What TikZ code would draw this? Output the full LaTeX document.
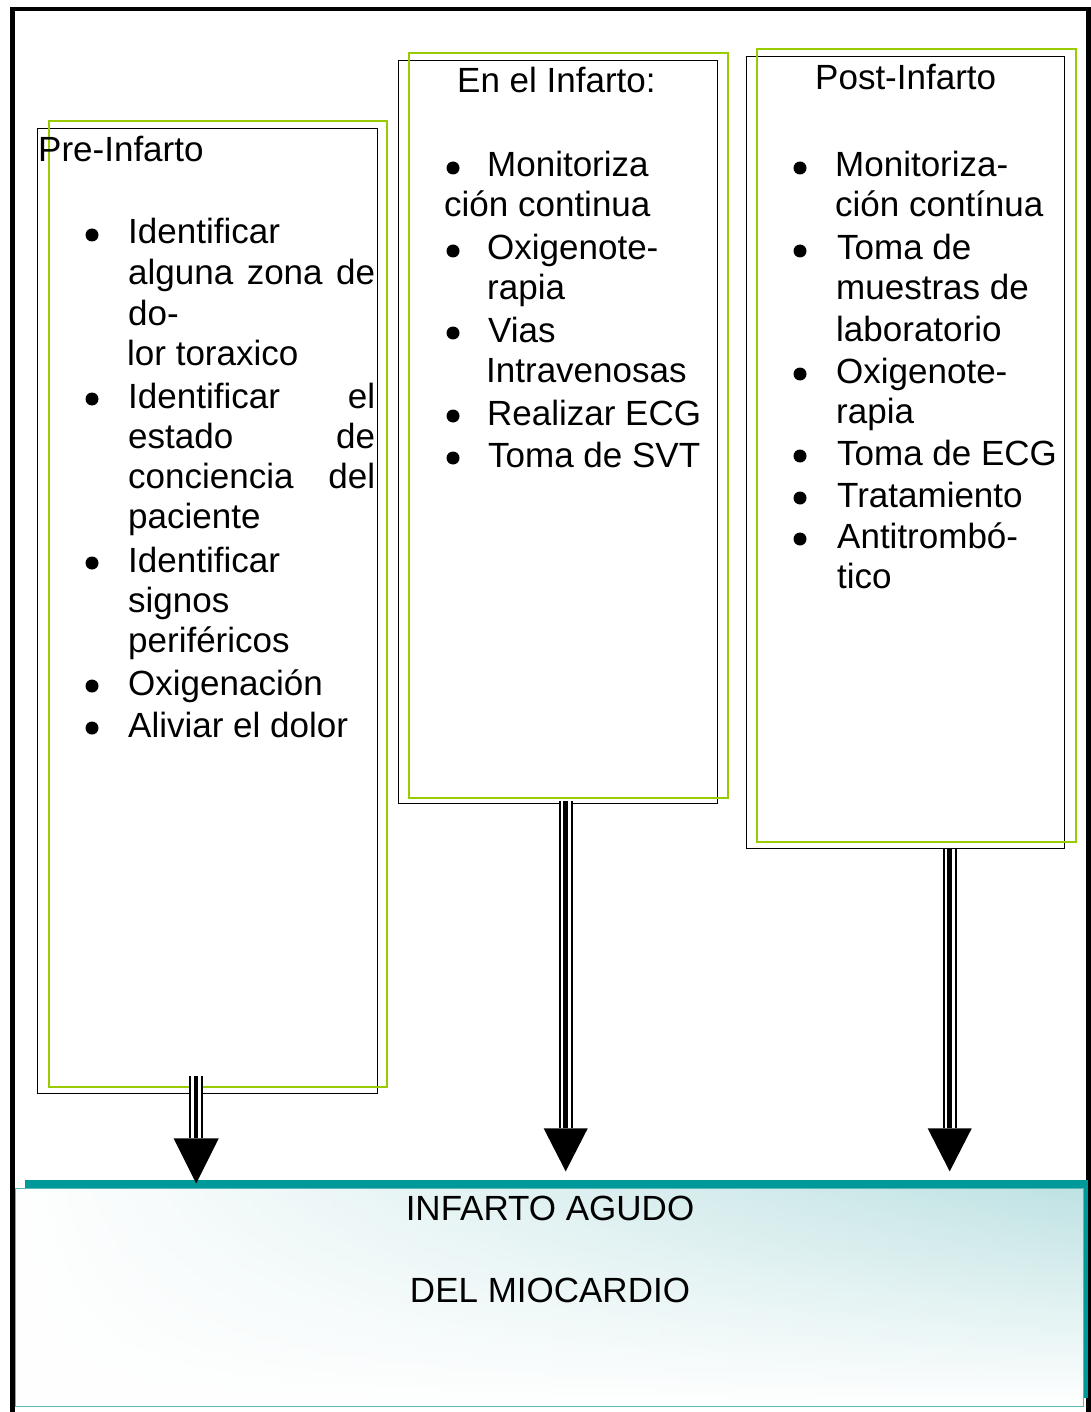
\documentclass[tikz,border=0pt]{standalone}
\usepackage{fontspec}
\setmainfont{Liberation Sans}
\usepackage{xcolor}
\usepackage{tikz}
\usetikzlibrary{fadings}
\definecolor{lime}{HTML}{99CC00}
\definecolor{iamteal}{HTML}{009999}
\definecolor{iamline}{HTML}{5CB8B8}
\definecolor{iamtop}{HTML}{BFE2E3}
\tikzset{
  stagebox/.style={draw=black, line width=1.4pt, inner sep=0pt, anchor=north west},
  stagegreen/.style={draw=lime, line width=1.8pt, inner sep=0pt, anchor=north west},
  txt/.style={anchor=base west, inner sep=0pt, font=\fontsize{35}{40.5}\selectfont},
  blt/.style={circle, fill=black, inner sep=0pt, minimum size=13pt},
  shaft/.style={line width=4.5pt, preaction={draw, line width=1.8pt, double distance=10.2pt}},
  head/.style={fill=black},
  iambox/.style={draw=iamline, line width=1.2pt, inner sep=0pt, anchor=north west,
    top color=iamtop, bottom color=white,
    path picture={\fill[white, path fading=east] (path picture bounding box.north west) rectangle (path picture bounding box.south east);}},
}

\begin{document}
\begin{tikzpicture}[x=1pt,y=-1pt]
  \useasboundingbox (0,0) rectangle (1091,1412);
  \clip (0,0) rectangle (1091,1412);

  % page frame
  \draw[line width=4.5pt] (12.5,1430) -- (12.5,9) -- (1088.5,9) -- (1088.5,1430);

  % the three stages
  \node[stagebox, minimum width=340pt, minimum height=965pt] (pre) at (37,128) {};
  \node[stagegreen, minimum width=338pt, minimum height=966pt] (pregreen) at (48,120) {};
  \node[stagebox, minimum width=319pt, minimum height=743pt] (during) at (398,60) {};
  \node[stagegreen, minimum width=319pt, minimum height=745pt] (duringgreen) at (408,52) {};
  \node[stagebox, minimum width=318pt, minimum height=792pt] (post) at (746,56) {};
  \node[stagegreen, minimum width=319pt, minimum height=793pt] (postgreen) at (756,48) {};

  % Pre-Infarto
  \foreach \x/\y/\t [count=\i] in {38/162/Pre-Infarto, 128/244/Identificar,
      128/285/{\makebox[247pt][s]{alguna zona de}}, 128/325/do-, 127/365/lor toraxico,
      128/408/{\makebox[247pt][s]{Identificar el}}, 128/448/{\makebox[247pt][s]{estado de}},
      128/488/{\makebox[247pt][s]{conciencia del}}, 128/528/paciente,
      128/572/Identificar, 128/612/signos, 128/652/periféricos,
      128/695/Oxigenación, 128/737/Aliviar el dolor}
    \node[txt] (pre\i) at (\x,\y) {\t};
  \foreach \y in {244,408,572,695,737}
    \node[blt] (preb\y) at (92,\y-9) {};

  % En el Infarto
  \foreach \x/\y/\t [count=\i] in {457/93/En el Infarto:, 487/177/Monitoriza,
      444/217/ción continua, 487/260/Oxigenote-, 487/300/rapia, 488/342/Vias,
      486/382/Intravenosas, 487/425/Realizar ECG, 488/467/Toma de SVT}
    \node[txt] (during\i) at (\x,\y) {\t};
  \foreach \y in {177,260,342,425,467}
    \node[blt] (duringb\y) at (453,\y-9) {};

  % Post-Infarto
  \foreach \x/\y/\t [count=\i] in {815/90/Post-Infarto, 835/177/Monitoriza-,
      835/217/ción contínua, 837/260/Toma de, 836/300/muestras de, 836/341/laboratorio,
      836/383/Oxigenote-, 836/423/rapia, 837/465/Toma de ECG, 837/507/Tratamiento,
      837/548/Antitrombó-, 837/588/tico}
    \node[txt] (post\i) at (\x,\y) {\t};
  \foreach \y in {177,260,383,465,507,548}
    \node[blt] (postb\y) at (800,\y-9) {};

  % result box
  \fill[iamteal] (25,1180) rectangle (1088,1398);
  \node[iambox, minimum width=1068pt, minimum height=218pt] (iam) at (15,1188) {};
  \node[txt, anchor=base] (iam1) at (550,1220) {INFARTO AGUDO};
  \node[txt, anchor=base] (iam2) at (550,1302) {DEL MIOCARDIO};

  % arrows
  \draw[shaft] ([xshift=-11.5pt,yshift=18pt]pre.south) -- ++(0,62) coordinate (h1);
  \fill[head] (h1) +(-22.5,0) -- +(22.5,0) -- +(0,45) -- cycle;
  \draw[shaft] ([xshift=7.5pt,yshift=3pt]during.south) -- ++(0,327) coordinate (h2);
  \fill[head] (h2) +(-22,0) -- +(22,0) -- +(0,43) -- cycle;
  \draw[shaft] ([xshift=44pt]post.south) -- ++(0,279) coordinate (h3);
  \fill[head] (h3) +(-22,0) -- +(22,0) -- +(0,43) -- cycle;
\end{tikzpicture}
\end{document}
